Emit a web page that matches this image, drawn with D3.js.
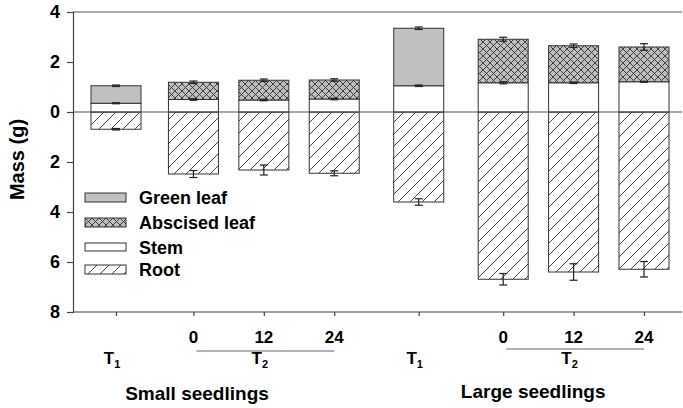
<!DOCTYPE html>
<html>
<head>
<meta charset="utf-8">
<script src="https://cdn.jsdelivr.net/npm/d3@7"></script>
<style>
  body { margin: 0; background: #fff; }
  text { font-family: "Liberation Sans", Arial, sans-serif; font-weight: bold; fill: #000; }
</style>
</head>
<body>
<div class="canva"></div>
<script>
// data (g per seedling)
const sizes = ["Small seedlings", "Large seedlings"];
const treatments = ["T1", "0", "12", "24", "T1", "0", "12", "24"];
const stem = [0.35, 0.50, 0.48, 0.52, 1.05, 1.17, 1.17, 1.21];
const greenLeaf = [0.70, 0, 0, 0, 2.30, 0, 0, 0];
const abscisedLeaf = [0, 0.69, 0.79, 0.76, 0, 1.74, 1.48, 1.39];
const root = [0.69, 2.48, 2.32, 2.45, 3.60, 6.69, 6.40, 6.29];
const stemErr = [0.02, 0.03, 0.03, 0.03, 0.03, 0.04, 0.03, 0.02];
const leafErr = [0.03, 0.05, 0.05, 0.05, 0.05, 0.08, 0.07, 0.13];
const rootErr = [0.03, 0.14, 0.20, 0.10, 0.13, 0.23, 0.33, 0.31];
const yTicks = [-8, -6, -4, -2, 0, 2, 4];
const legendItems = ["Green leaf", "Abscised leaf", "Stem", "Root"];

// layout: slot index along x (T1 set a bit apart from the T2 run)
const slots = [0, 1.1, 2.1, 3.1, 4.3, 5.5, 6.5, 7.5];

const width = 683, height = 408;
const margin = {top: 12, right: 1, bottom: 96, left: 73};

const svg = d3.select(".canva").append("svg")
    .attr("width", width)
    .attr("height", height);

const defs = svg.append("defs");

const hatch = defs.append("pattern")
    .attr("id", "hatch")
    .attr("patternUnits", "userSpaceOnUse")
    .attr("width", 12).attr("height", 12);
hatch.append("rect").attr("width", 12).attr("height", 12).attr("fill", "#fff");
hatch.append("path")
    .attr("d", "M0,12 L12,0 M-3,3 L3,-3 M9,15 L15,9")
    .attr("stroke", "#333").attr("stroke-width", 0.9);

const cross = defs.append("pattern")
    .attr("id", "cross")
    .attr("patternUnits", "userSpaceOnUse")
    .attr("width", 7).attr("height", 7);
cross.append("rect").attr("width", 7).attr("height", 7).attr("fill", "#bdbdbd");
cross.append("path")
    .attr("d", "M0,0 L7,7 M0,7 L7,0")
    .attr("stroke", "#333").attr("stroke-width", 0.9);

const fills = {
    "Green leaf": "#c0c0c0",
    "Abscised leaf": "url(#cross)",
    "Stem": "#fff",
    "Root": "url(#hatch)"
};

const x = d3.scaleLinear().domain([0, 7.5]).range([116, 644]);
const y = d3.scaleLinear().domain([-8, 4]).range([height - margin.bottom, margin.top]);
const barW = 50;

const bars = treatments.map((t, i) => ({
    i, t,
    stem: stem[i],
    green: greenLeaf[i],
    absc: abscisedLeaf[i],
    root: root[i]
}));

const g = svg.append("g");

// root segment (below zero)
g.selectAll(".root").data(bars).enter().append("rect")
    .attr("x", d => x(slots[d.i]) - barW / 2)
    .attr("y", y(0))
    .attr("width", barW)
    .attr("height", d => y(-d.root) - y(0))
    .attr("fill", fills["Root"])
    .attr("stroke", "#333").attr("stroke-width", 1);

// stem segment
g.selectAll(".stem").data(bars).enter().append("rect")
    .attr("x", d => x(slots[d.i]) - barW / 2)
    .attr("y", d => y(d.stem))
    .attr("width", barW)
    .attr("height", d => y(0) - y(d.stem))
    .attr("fill", fills["Stem"])
    .attr("stroke", "#333").attr("stroke-width", 1);

// leaf segment (green or abscised)
g.selectAll(".leaf").data(bars).enter().append("rect")
    .attr("x", d => x(slots[d.i]) - barW / 2)
    .attr("y", d => y(d.stem + d.green + d.absc))
    .attr("width", barW)
    .attr("height", d => y(d.stem) - y(d.stem + d.green + d.absc))
    .attr("fill", d => d.green > 0 ? fills["Green leaf"] : fills["Abscised leaf"])
    .attr("stroke", "#333").attr("stroke-width", 1);

// error bars
const errs = [];
bars.forEach(d => {
    errs.push({i: d.i, v: d.stem, e: stemErr[d.i]});
    errs.push({i: d.i, v: d.stem + d.green + d.absc, e: leafErr[d.i]});
    errs.push({i: d.i, v: -d.root, e: rootErr[d.i]});
});
const eb = g.selectAll(".err").data(errs).enter().append("g")
    .attr("stroke", "#222").attr("stroke-width", 1.2);
eb.append("line")
    .attr("x1", d => x(slots[d.i])).attr("x2", d => x(slots[d.i]))
    .attr("y1", d => y(d.v + d.e)).attr("y2", d => y(d.v - d.e));
eb.append("line")
    .attr("x1", d => x(slots[d.i]) - 4).attr("x2", d => x(slots[d.i]) + 4)
    .attr("y1", d => y(d.v + d.e)).attr("y2", d => y(d.v + d.e));
eb.append("line")
    .attr("x1", d => x(slots[d.i]) - 4).attr("x2", d => x(slots[d.i]) + 4)
    .attr("y1", d => y(d.v - d.e)).attr("y2", d => y(d.v - d.e));

// frame + zero line
const right = width - margin.right;
svg.append("line").attr("x1", margin.left).attr("x2", right)
    .attr("y1", y(4)).attr("y2", y(4)).attr("stroke", "#555").attr("stroke-width", 1.2);
svg.append("line").attr("x1", margin.left).attr("x2", right)
    .attr("y1", y(0)).attr("y2", y(0)).attr("stroke", "#555").attr("stroke-width", 1.2);

// y axis
const yAxis = svg.append("g")
    .attr("transform", `translate(${margin.left},0)`)
    .call(d3.axisLeft(y).tickValues(yTicks).tickSize(6).tickFormat(d => Math.abs(d)));
yAxis.selectAll("text").attr("font-size", 18).attr("dx", "-4");
yAxis.selectAll("line, path").attr("stroke", "#444").attr("stroke-width", 1.2);

// x axis
const xAxis = svg.append("g")
    .attr("transform", `translate(0,${y(-8)})`)
    .call(d3.axisBottom(x).tickValues(slots).tickSize(4).tickFormat(""));
xAxis.select(".domain").attr("d", `M${margin.left},0H${right}`);
xAxis.selectAll("line, path").attr("stroke", "#444").attr("stroke-width", 1.2);

// x labels
const base = y(-8);
bars.filter(d => d.t !== "T1").forEach(d => {
    svg.append("text")
        .attr("x", x(slots[d.i])).attr("y", base + 31)
        .attr("text-anchor", "middle").attr("font-size", 17)
        .text(d.t);
});

sizes.forEach((s, k) => {
    const first = k * 4;
    const t1x = x(slots[first]);
    const t2a = x(slots[first + 1]), t2c = x(slots[first + 3]);
    svg.append("line")
        .attr("x1", t2a + 3).attr("x2", t2c)
        .attr("y1", base + 39 - k * 2).attr("y2", base + 39 - k * 2)
        .attr("stroke", "#666").attr("stroke-width", 1.2);

    [[t1x - 4, "1"], [x(slots[first + 2]) - 4, "2"]].forEach(([tx, sub]) => {
        const t = svg.append("text")
            .attr("x", tx).attr("y", base + 52)
            .attr("text-anchor", "middle").attr("font-size", 17);
        t.append("tspan").text("T");
        t.append("tspan").attr("font-size", 11).attr("dy", 4).text(sub);
    });

    svg.append("text")
        .attr("x", k === 0 ? 197 : x(slots[first + 1]) + 30)
        .attr("y", base + 88 - k * 2)
        .attr("text-anchor", "middle").attr("font-size", 19)
        .text(s);
});

// y title
svg.append("text")
    .attr("transform", `translate(24,${y(-1.9)}) rotate(-90)`)
    .attr("text-anchor", "middle").attr("font-size", 20)
    .text("Mass (g)");

// legend
const legend = svg.append("g").attr("transform", "translate(85,193)");
legendItems.forEach((name, k) => {
    const row = legend.append("g").attr("transform", `translate(0,${k * 25 - (k === 3 ? 3 : 0)})`);
    row.append("rect")
        .attr("width", 41).attr("height", k === 2 ? 8 : 9)
        .attr("fill", fills[name])
        .attr("stroke", "#333").attr("stroke-width", 1);
    row.append("text")
        .attr("x", 54).attr("y", 11)
        .attr("font-size", 18)
        .text(name);
});
</script>
</body>
</html>
